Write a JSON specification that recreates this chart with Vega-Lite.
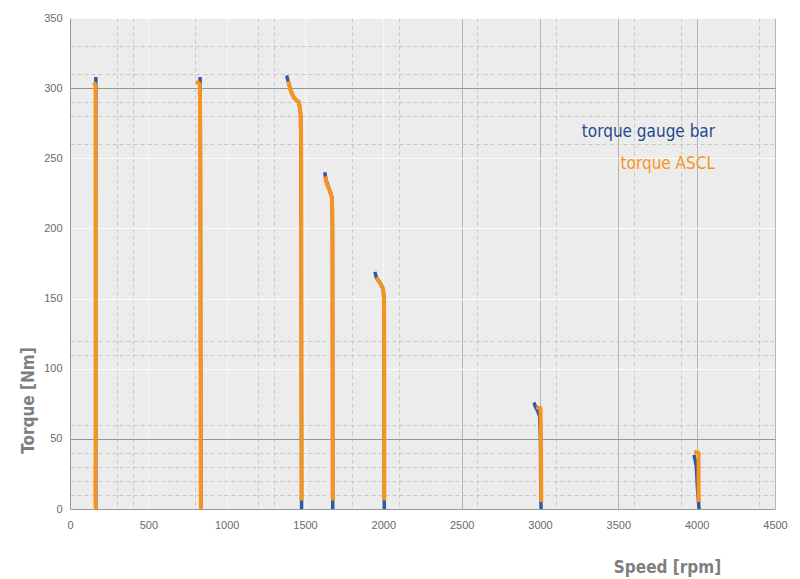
{
  "$schema": "https://vega.github.io/schema/vega-lite/v6.json",
  "width": 705,
  "height": 491,
  "autosize": {"type": "none"},
  "padding": {"left": 70, "top": 18, "right": 25, "bottom": 70},
  "background": "#ffffff",
  "config": {
    "view": {"stroke": "#a8a8a8", "fill": "#ececec"},
    "axis": {
      "labelFont": "Liberation Sans",
      "labelFontSize": 11,
      "labelColor": "#6a6a6a",
      "ticks": false,
      "domainColor": "#9a9a9a",
      "titleFont": "Liberation Sans Narrow, DejaVu Sans Condensed, sans-serif",
      "titleFontWeight": "bold",
      "titleFontSize": 17,
      "titleColor": "#7f7f7f"
    }
  },
  "datasets": {
    "curves": [
      {"series": "gauge", "curve": 1, "o": 1, "speed": 165, "torque": 308},
      {"series": "gauge", "curve": 1, "o": 2, "speed": 165, "torque": 303},
      {"series": "gauge", "curve": 1, "o": 3, "speed": 164, "torque": 200},
      {"series": "gauge", "curve": 1, "o": 4, "speed": 164, "torque": 60},
      {"series": "gauge", "curve": 1, "o": 5, "speed": 165, "torque": 0},
      {"series": "gauge", "curve": 2, "o": 1, "speed": 830, "torque": 308},
      {"series": "gauge", "curve": 2, "o": 2, "speed": 831, "torque": 303},
      {"series": "gauge", "curve": 2, "o": 3, "speed": 833, "torque": 200},
      {"series": "gauge", "curve": 2, "o": 4, "speed": 834, "torque": 100},
      {"series": "gauge", "curve": 2, "o": 5, "speed": 835, "torque": 0},
      {"series": "gauge", "curve": 3, "o": 1, "speed": 1383, "torque": 309},
      {"series": "gauge", "curve": 3, "o": 2, "speed": 1392, "torque": 305},
      {"series": "gauge", "curve": 3, "o": 3, "speed": 1410, "torque": 298},
      {"series": "gauge", "curve": 3, "o": 4, "speed": 1430, "torque": 293},
      {"series": "gauge", "curve": 3, "o": 5, "speed": 1460, "torque": 290},
      {"series": "gauge", "curve": 3, "o": 6, "speed": 1472, "torque": 282},
      {"series": "gauge", "curve": 3, "o": 7, "speed": 1476, "torque": 200},
      {"series": "gauge", "curve": 3, "o": 8, "speed": 1477, "torque": 100},
      {"series": "gauge", "curve": 3, "o": 9, "speed": 1478, "torque": 0},
      {"series": "gauge", "curve": 4, "o": 1, "speed": 1626, "torque": 240},
      {"series": "gauge", "curve": 4, "o": 2, "speed": 1635, "torque": 234},
      {"series": "gauge", "curve": 4, "o": 3, "speed": 1655, "torque": 228},
      {"series": "gauge", "curve": 4, "o": 4, "speed": 1672, "torque": 222},
      {"series": "gauge", "curve": 4, "o": 5, "speed": 1675, "torque": 200},
      {"series": "gauge", "curve": 4, "o": 6, "speed": 1676, "torque": 100},
      {"series": "gauge", "curve": 4, "o": 7, "speed": 1677, "torque": 0},
      {"series": "gauge", "curve": 5, "o": 1, "speed": 1946, "torque": 169},
      {"series": "gauge", "curve": 5, "o": 2, "speed": 1955, "torque": 165},
      {"series": "gauge", "curve": 5, "o": 3, "speed": 1975, "torque": 162},
      {"series": "gauge", "curve": 5, "o": 4, "speed": 1998, "torque": 157},
      {"series": "gauge", "curve": 5, "o": 5, "speed": 2004, "torque": 150},
      {"series": "gauge", "curve": 5, "o": 6, "speed": 2005, "torque": 100},
      {"series": "gauge", "curve": 5, "o": 7, "speed": 2006, "torque": 0},
      {"series": "gauge", "curve": 6, "o": 1, "speed": 2962, "torque": 76},
      {"series": "gauge", "curve": 6, "o": 2, "speed": 2970, "torque": 73},
      {"series": "gauge", "curve": 6, "o": 3, "speed": 2985, "torque": 70},
      {"series": "gauge", "curve": 6, "o": 4, "speed": 2998, "torque": 66},
      {"series": "gauge", "curve": 6, "o": 5, "speed": 3003, "torque": 50},
      {"series": "gauge", "curve": 6, "o": 6, "speed": 3005, "torque": 10},
      {"series": "gauge", "curve": 6, "o": 7, "speed": 3007, "torque": 0},
      {"series": "gauge", "curve": 7, "o": 1, "speed": 3983, "torque": 38.5},
      {"series": "gauge", "curve": 7, "o": 2, "speed": 3990, "torque": 35},
      {"series": "gauge", "curve": 7, "o": 3, "speed": 3998, "torque": 30},
      {"series": "gauge", "curve": 7, "o": 4, "speed": 4005, "torque": 15},
      {"series": "gauge", "curve": 7, "o": 5, "speed": 4012, "torque": 5},
      {"series": "gauge", "curve": 7, "o": 6, "speed": 4015, "torque": 0},
      {"series": "ascl", "curve": 1, "o": 1, "speed": 152, "torque": 304},
      {"series": "ascl", "curve": 1, "o": 2, "speed": 158, "torque": 303},
      {"series": "ascl", "curve": 1, "o": 3, "speed": 163, "torque": 302},
      {"series": "ascl", "curve": 1, "o": 4, "speed": 163, "torque": 250},
      {"series": "ascl", "curve": 1, "o": 5, "speed": 164, "torque": 150},
      {"series": "ascl", "curve": 1, "o": 6, "speed": 164, "torque": 60},
      {"series": "ascl", "curve": 1, "o": 7, "speed": 162, "torque": 10},
      {"series": "ascl", "curve": 1, "o": 8, "speed": 163, "torque": 3},
      {"series": "ascl", "curve": 1, "o": 9, "speed": 166, "torque": 0},
      {"series": "ascl", "curve": 2, "o": 1, "speed": 806, "torque": 305},
      {"series": "ascl", "curve": 2, "o": 2, "speed": 815, "torque": 304},
      {"series": "ascl", "curve": 2, "o": 3, "speed": 828, "torque": 303},
      {"series": "ascl", "curve": 2, "o": 4, "speed": 830, "torque": 290},
      {"series": "ascl", "curve": 2, "o": 5, "speed": 832, "torque": 250},
      {"series": "ascl", "curve": 2, "o": 6, "speed": 833, "torque": 150},
      {"series": "ascl", "curve": 2, "o": 7, "speed": 834, "torque": 50},
      {"series": "ascl", "curve": 2, "o": 8, "speed": 835, "torque": 5},
      {"series": "ascl", "curve": 2, "o": 9, "speed": 836, "torque": 0},
      {"series": "ascl", "curve": 3, "o": 1, "speed": 1394, "torque": 305},
      {"series": "ascl", "curve": 3, "o": 2, "speed": 1402, "torque": 301},
      {"series": "ascl", "curve": 3, "o": 3, "speed": 1412, "torque": 297},
      {"series": "ascl", "curve": 3, "o": 4, "speed": 1425, "torque": 294},
      {"series": "ascl", "curve": 3, "o": 5, "speed": 1440, "torque": 292},
      {"series": "ascl", "curve": 3, "o": 6, "speed": 1458, "torque": 290},
      {"series": "ascl", "curve": 3, "o": 7, "speed": 1466, "torque": 288},
      {"series": "ascl", "curve": 3, "o": 8, "speed": 1472, "torque": 281},
      {"series": "ascl", "curve": 3, "o": 9, "speed": 1475, "torque": 265},
      {"series": "ascl", "curve": 3, "o": 10, "speed": 1476, "torque": 200},
      {"series": "ascl", "curve": 3, "o": 11, "speed": 1477, "torque": 100},
      {"series": "ascl", "curve": 3, "o": 12, "speed": 1478, "torque": 30},
      {"series": "ascl", "curve": 3, "o": 13, "speed": 1478, "torque": 6},
      {"series": "ascl", "curve": 4, "o": 1, "speed": 1628, "torque": 237},
      {"series": "ascl", "curve": 4, "o": 2, "speed": 1638, "torque": 232},
      {"series": "ascl", "curve": 4, "o": 3, "speed": 1650, "torque": 229},
      {"series": "ascl", "curve": 4, "o": 4, "speed": 1662, "torque": 226},
      {"series": "ascl", "curve": 4, "o": 5, "speed": 1672, "torque": 221},
      {"series": "ascl", "curve": 4, "o": 6, "speed": 1675, "torque": 210},
      {"series": "ascl", "curve": 4, "o": 7, "speed": 1676, "torque": 150},
      {"series": "ascl", "curve": 4, "o": 8, "speed": 1677, "torque": 50},
      {"series": "ascl", "curve": 4, "o": 9, "speed": 1677, "torque": 6},
      {"series": "ascl", "curve": 5, "o": 1, "speed": 1955, "torque": 165},
      {"series": "ascl", "curve": 5, "o": 2, "speed": 1965, "torque": 163},
      {"series": "ascl", "curve": 5, "o": 3, "speed": 1980, "torque": 161},
      {"series": "ascl", "curve": 5, "o": 4, "speed": 1995, "torque": 158},
      {"series": "ascl", "curve": 5, "o": 5, "speed": 2003, "torque": 154},
      {"series": "ascl", "curve": 5, "o": 6, "speed": 2005, "torque": 140},
      {"series": "ascl", "curve": 5, "o": 7, "speed": 2006, "torque": 80},
      {"series": "ascl", "curve": 5, "o": 8, "speed": 2006, "torque": 6},
      {"series": "ascl", "curve": 6, "o": 1, "speed": 2978, "torque": 73},
      {"series": "ascl", "curve": 6, "o": 2, "speed": 2990, "torque": 72},
      {"series": "ascl", "curve": 6, "o": 3, "speed": 3003, "torque": 72},
      {"series": "ascl", "curve": 6, "o": 4, "speed": 3005, "torque": 60},
      {"series": "ascl", "curve": 6, "o": 5, "speed": 3007, "torque": 30},
      {"series": "ascl", "curve": 6, "o": 6, "speed": 3008, "torque": 5},
      {"series": "ascl", "curve": 7, "o": 1, "speed": 3983, "torque": 40.5},
      {"series": "ascl", "curve": 7, "o": 2, "speed": 4000, "torque": 40.5},
      {"series": "ascl", "curve": 7, "o": 3, "speed": 4012, "torque": 40},
      {"series": "ascl", "curve": 7, "o": 4, "speed": 4012, "torque": 20},
      {"series": "ascl", "curve": 7, "o": 5, "speed": 4013, "torque": 5}
    ]
  },
  "layer": [
    {
      "data": {"name": "curves"},
      "transform": [{"filter": "datum.series === 'gauge'"}],
      "mark": {"type": "line", "strokeWidth": 3.5, "strokeCap": "butt", "strokeJoin": "round"},
      "encoding": {
        "x": {
          "field": "speed", "type": "quantitative",
          "scale": {"domain": [0, 4500], "nice": false, "zero": false},
          "axis": {
            "title": "Speed [rpm]",
            "values": [0, 300, 400, 500, 800, 1000, 1200, 1300, 1500, 1800, 2000, 2100, 2500, 2600, 3000, 3100, 3500, 3600, 3900, 4000, 4400, 4500],
            "tickCount": 200,
            "labelExpr": "datum.value % 500 === 0 ? datum.label : ''",
            "format": "d",
            "labelPadding": 10,
            "labelFlush": false,
            "labelOverlap": false,
            "grid": true,
            "gridColor": {"condition": [
              {"test": "datum.value % 500 === 0 && datum.value >= 2500", "value": "#b4b4b4"},
              {"test": "datum.value % 500 === 0", "value": "#f8f8f8"}
            ], "value": "#c8c8c8"},
            "gridDash": {"condition": {"test": "datum.value % 500 === 0", "value": []}, "value": [4, 3]},
            "titleX": 597,
            "titleY": 58,
            "titleAlign": "center",
            "titleBaseline": "middle"
          }
        },
        "y": {
          "field": "torque", "type": "quantitative",
          "scale": {"domain": [0, 350], "nice": false},
          "axis": {
            "title": "Torque [Nm]",
            "values": [0, 10, 20, 30, 40, 50, 60, 100, 110, 120, 150, 200, 250, 260, 280, 290, 300, 310, 330, 350],
            "tickCount": 200,
            "labelExpr": "datum.value % 50 === 0 ? datum.label : ''",
            "labelPadding": 8,
            "labelOverlap": false,
            "grid": true,
            "gridColor": {"condition": [
              {"test": "datum.value === 50 || datum.value === 300", "value": "#969696"},
              {"test": "datum.value % 50 === 0", "value": "#fbfbfb"}
            ], "value": "#c8c8c8"},
            "gridDash": {"condition": {"test": "datum.value % 50 === 0", "value": []}, "value": [4, 3]},
            "titleX": -42,
            "titleY": 382,
            "titleAngle": -90,
            "titleAlign": "center",
            "titleBaseline": "middle"
          }
        },
        "detail": {"field": "curve"},
        "order": {"field": "o"},
        "color": {"value": "#3358a8"}
      }
    },
    {
      "data": {"name": "curves"},
      "transform": [{"filter": "datum.series === 'ascl'"}],
      "mark": {"type": "line", "strokeWidth": 4, "strokeCap": "butt", "strokeJoin": "round"},
      "encoding": {
        "x": {"field": "speed", "type": "quantitative"},
        "y": {"field": "torque", "type": "quantitative"},
        "detail": {"field": "curve"},
        "order": {"field": "o"},
        "color": {"value": "#f7941d"}
      }
    },
    {
      "data": {"values": [{"label": "torque gauge bar"}]},
      "mark": {"type": "text", "align": "right", "baseline": "alphabetic", "font": "Liberation Sans Narrow, DejaVu Sans Condensed, sans-serif", "fontSize": 17, "fontWeight": 500, "fill": "#1f4a8e"},
      "encoding": {
        "x": {"datum": 4117, "type": "quantitative"},
        "y": {"datum": 265, "type": "quantitative"},
        "text": {"field": "label"}
      }
    },
    {
      "data": {"values": [{"label": "torque ASCL"}]},
      "mark": {"type": "text", "align": "right", "baseline": "alphabetic", "font": "Liberation Sans Narrow, DejaVu Sans Condensed, sans-serif", "fontSize": 17, "fontWeight": 500, "fill": "#f7941d"},
      "encoding": {
        "x": {"datum": 4117, "type": "quantitative"},
        "y": {"datum": 242.5, "type": "quantitative"},
        "text": {"field": "label"}
      }
    }
  ]
}
